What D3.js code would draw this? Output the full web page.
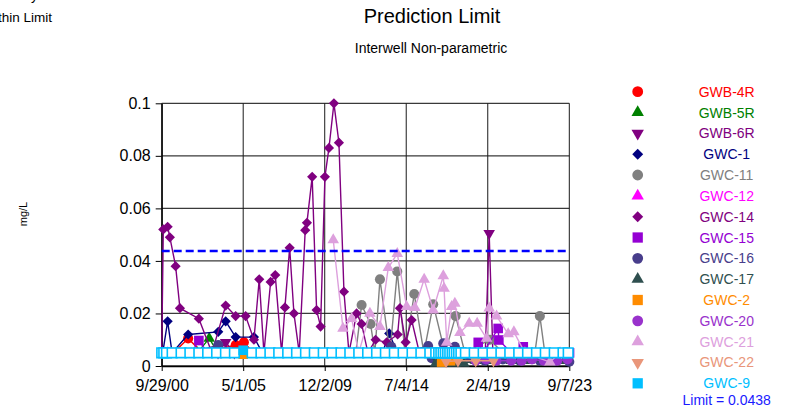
<!DOCTYPE html>
<html>
<head>
<meta charset="utf-8">
<script src="https://cdn.jsdelivr.net/npm/d3@7"></script>
<style>
  html, body { margin: 0; padding: 0; background: #fff; }
  svg { display: block; font-family: "Liberation Sans", Arial, sans-serif; }
</style>
</head>
<body>
<svg id="chart" width="789" height="415"></svg>
<script>
// ---------------- DATA ----------------
const xTickLabels = ["9/29/00", "5/1/05", "12/2/09", "7/4/14", "2/4/19", "9/7/23"];
const yTickValues = [0, 0.02, 0.04, 0.06, 0.08, 0.1];
const yTickLabels = ["0", "0.02", "0.04", "0.06", "0.08", "0.1"];
const limitValue = 0.0438;

const seriesNames = ["GWB-4R","GWB-5R","GWB-6R","GWC-1","GWC-11","GWC-12","GWC-14","GWC-15","GWC-16","GWC-17","GWC-2","GWC-20","GWC-21","GWC-22","GWC-9"];
const seriesColors = ["#FF0000","#008000","#800080","#000080","#808080","#FF00FF","#800080","#9400D3","#483D8B","#2F4F4F","#FF8C00","#9932CC","#DDA0DD","#E9967A","#00BFFF"];
const seriesShapes = ["circle","triangle","triangleDown","diamond","circle","triangle","diamond","square","circle","triangle","square","circle","triangle","triangleDown","square"];

const gwb4rDates = ["2001-06-01","2002-03-27","2003-01-15","2004-11-27","2005-05-16","2005-12-01"];
const gwb4rValues = [0.005,0.0105,0.005,0.008,0.009,0.005];

const gwb5rDates = ["2002-10-01","2003-06-03","2003-12-01"];
const gwb5rValues = [0.005,0.0105,0.005];

const gwb6rDates = ["2003-12-01","2004-05-06","2004-11-01","2018-12-15","2019-03-05","2019-05-20"];
const gwb6rValues = [0.005,0.009,0.005,0.005,0.0505,0.005];

const gwc1Dates = ["2000-10-20","2001-01-29","2001-05-01","2002-03-27","2003-12-05","2004-05-06","2004-11-27","2005-12-08","2006-06-01","2013-03-01","2013-07-20","2014-01-01"];
const gwc1Values = [0.005,0.017,0.005,0.012,0.013,0.017,0.011,0.011,0.005,0.005,0.0124,0.005];

const gwc11Dates = ["2011-09-01","2011-12-30","2012-07-01","2012-09-28","2013-01-10","2013-08-04","2014-01-01","2014-06-08","2014-12-16","2015-07-02","2016-01-10","2016-09-08","2017-04-15","2017-10-23","2019-03-19","2019-12-10","2021-09-30","2022-01-10","2022-04-22"];
const gwc11Values = [0.005,0.0232,0.016,0.005,0.033,0.005,0.036,0.005,0.0274,0.005,0.0235,0.005,0.019,0.005,0.010,0.005,0.005,0.019,0.005];

const gwc12Dates = ["2000-10-10","2001-02-01"];
const gwc12Values = [0.005,0.005];

const gwc14Dates = ["2000-09-29","2000-11-01","2001-01-29","2001-03-16","2001-07-12","2001-10-09","2002-11-02","2003-07-29","2004-05-06","2004-11-27","2005-06-20","2005-12-08","2006-03-27","2006-07-01","2006-11-16","2007-02-19","2007-06-30","2007-09-06","2007-12-12","2008-03-09","2008-06-26","2008-10-27","2008-12-01","2009-03-19","2009-06-18","2009-09-08","2009-12-06","2010-02-27","2010-06-09","2010-09-20","2011-01-01","2011-04-14","2011-09-18","2011-12-30","2012-05-08","2012-10-13","2013-05-28","2014-01-09","2014-02-25","2014-06-22","2014-10-23","2015-04-01"];
const gwc14Values = [0.005,0.052,0.053,0.049,0.038,0.022,0.018,0.005,0.023,0.019,0.019,0.010,0.033,0.005,0.032,0.0346,0.005,0.0223,0.045,0.020,0.005,0.0517,0.0545,0.072,0.0213,0.015,0.072,0.083,0.100,0.085,0.0283,0.005,0.020,0.016,0.005,0.010,0.009,0.012,0.022,0.009,0.0175,0.005];

const gwc15Dates = ["2002-06-01","2002-11-02","2003-05-01","2018-03-01","2018-07-23","2018-11-01","2019-09-06","2019-09-20","2020-06-01","2021-02-03","2021-06-01","2023-09-12"];
const gwc15Values = [0.005,0.0097,0.005,0.005,0.009,0.005,0.0143,0.0099,0.005,0.0073,0.005,0.005];

const gwc16Dates = ["2002-06-01","2003-12-05","2004-06-01","2013-03-01","2013-09-01","2014-03-01","2015-09-28","2015-12-08","2016-08-04","2017-03-30","2018-02-02","2018-12-08","2019-12-10","2020-11-27","2022-01-10","2022-11-14","2023-09-07"];
const gwc16Values = [0.005,0.008,0.005,0.005,0.0073,0.005,0.0076,0.003,0.0086,0.0073,0.003,0.002,0.0025,0.002,0.002,0.002,0.0016];

const gwc17Dates = ["2015-11-01","2016-03-01","2016-09-01","2017-04-01","2017-10-01","2018-06-01","2019-06-01","2020-06-01","2021-06-01","2022-06-01","2023-06-01"];
const gwc17Values = [0.005,0.001,0.001,0.001,0.001,0.002,0.002,0.002,0.002,0.002,0.002];

const gwc2Dates = ["2005-01-01","2005-05-01","2005-09-01","2016-01-01","2016-07-01","2017-01-01"];
const gwc2Values = [0.005,0.0045,0.005,0.005,0.0015,0.002];

const gwc20Dates = ["2017-11-01","2018-06-01","2019-01-01","2019-08-01","2020-06-01","2021-01-01","2021-08-01","2022-04-01","2023-01-01","2023-08-01"];
const gwc20Values = [0.005,0.002,0.0025,0.002,0.002,0.002,0.0025,0.002,0.002,0.0025];

const gwc21Dates = ["2010-05-26","2010-12-12","2011-06-08","2011-11-01","2012-06-18","2013-01-10","2013-06-30","2014-01-01","2014-07-12","2014-12-30","2015-07-08","2016-01-10","2016-08-04","2016-08-20","2016-10-13","2017-01-23","2017-03-30","2017-07-12","2018-01-19","2018-07-01","2019-01-10","2019-03-05","2019-08-04","2020-03-30","2020-07-25","2021-03-09","2022-08-04","2023-03-01"];
const gwc21Values = [0.048,0.0143,0.018,0.005,0.020,0.015,0.0374,0.0428,0.0226,0.0222,0.033,0.0213,0.0343,0.0295,0.009,0.0226,0.0238,0.0127,0.0162,0.0162,0.0105,0.022,0.019,0.0122,0.013,0.005,0.0015,0.005];

const gwc22Dates = ["2016-03-01","2016-10-01","2017-06-01","2018-06-01","2019-06-01"];
const gwc22Values = [0.005,0.0017,0.002,0.002,0.002];

const gwc9Dates = ["2000-09-29","2000-11-10","2001-01-05","2001-05-01","2001-11-01","2002-05-01","2002-11-01","2003-05-01","2003-11-01","2004-05-01","2004-11-01","2005-05-01","2005-11-01","2006-05-01","2006-11-01","2007-05-01","2007-11-01","2008-05-01","2008-11-01","2009-05-01","2009-11-01","2010-05-01","2010-11-01","2011-05-01","2011-11-01","2012-05-01","2012-11-01","2013-05-01","2013-11-01","2014-05-01","2014-11-01","2015-05-01","2015-11-01","2016-03-01","2016-05-01","2016-06-15","2016-08-01","2016-09-15","2016-11-01","2016-12-15","2017-02-01","2017-03-15","2017-05-01","2017-06-15","2017-08-01","2017-11-01","2018-05-01","2018-11-01","2019-05-01","2019-11-01","2020-05-01","2020-11-01","2021-05-01","2021-11-01","2022-05-01","2022-11-01","2023-05-01","2023-08-15"];
const gwc9Values = [0.005,0.005,0.005,0.005,0.005,0.005,0.005,0.005,0.005,0.005,0.005,0.006,0.005,0.005,0.005,0.005,0.005,0.005,0.005,0.005,0.005,0.005,0.005,0.005,0.005,0.005,0.005,0.005,0.005,0.005,0.005,0.005,0.005,0.005,0.005,0.005,0.005,0.005,0.005,0.005,0.005,0.005,0.005,0.005,0.005,0.005,0.005,0.005,0.005,0.005,0.005,0.005,0.005,0.005,0.005,0.005,0.005,0.005];
// 1 = detected (filled marker), 0 = non-detect (hollow marker)
const gwc9Detected = [0,0,0,0,0,0,0,0,0,0,0,1,0,0,0,0,0,0,0,0,0,0,0,0,0,0,0,0,0,0,0,0,0,0,0,0,0,0,0,0,0,0,0,0,0,0,0,0,0,0,0,0,0,0,0,0,0,0];

const seriesDates = [gwb4rDates,gwb5rDates,gwb6rDates,gwc1Dates,gwc11Dates,gwc12Dates,gwc14Dates,gwc15Dates,gwc16Dates,gwc17Dates,gwc2Dates,gwc20Dates,gwc21Dates,gwc22Dates,gwc9Dates];
const seriesValues = [gwb4rValues,gwb5rValues,gwb6rValues,gwc1Values,gwc11Values,gwc12Values,gwc14Values,gwc15Values,gwc16Values,gwc17Values,gwc2Values,gwc20Values,gwc21Values,gwc22Values,gwc9Values];

// ---------------- CHART ----------------
const svg = d3.select("#chart");
const parseISO = d3.timeParse("%Y-%m-%d");
const parseTick = d3.timeParse("%m/%d/%y");
const xTicks = xTickLabels.map(parseTick);

const plot = { left: 161.7, right: 569.3, top: 103.3, bottom: 366 };

const x = d3.scaleTime()
  .domain([xTicks[0], xTicks[xTicks.length - 1]])
  .range([plot.left, plot.right]);
const y = d3.scaleLinear().domain([0, 0.1]).range([plot.bottom, plot.top]);

// Titles (top-left header is partly outside the page, as in the reference)
svg.append("text").attr("x", 38).attr("y", -0.5).attr("text-anchor", "end")
  .attr("font-size", 14).attr("fill", "#000").text("Summary");
svg.append("text").attr("x", 52).attr("y", 22).attr("text-anchor", "end")
  .attr("font-size", 13.5).attr("fill", "#000").text("Within Limit");
svg.append("text").attr("x", 432).attr("y", 22.5).attr("text-anchor", "middle")
  .attr("font-size", 20).attr("fill", "#000").text("Prediction Limit");
svg.append("text").attr("x", 431).attr("y", 52.5).attr("text-anchor", "middle")
  .attr("font-size", 14).attr("fill", "#000").text("Interwell Non-parametric");

// Y axis label
svg.append("text")
  .attr("transform", "translate(27,214) rotate(-90)")
  .attr("text-anchor", "middle").attr("font-size", 11).attr("fill", "#000")
  .text("mg/L");

// Gridlines
const grid = svg.append("g");
grid.selectAll("line.h").data(yTickValues).join("line")
  .attr("x1", plot.left).attr("x2", plot.right)
  .attr("y1", d => y(d)).attr("y2", d => y(d))
  .attr("stroke", "#3a3a3a").attr("stroke-width", 1.3);
grid.selectAll("line.v").data(xTicks).join("line")
  .attr("x1", d => x(d)).attr("x2", d => x(d))
  .attr("y1", plot.top).attr("y2", plot.bottom)
  .attr("stroke", "#1a1a1a").attr("stroke-width", 1);

// Axes
const yAxis = d3.axisLeft(y).tickValues(yTickValues)
  .tickFormat((d, i) => yTickLabels[i]).tickSize(6).tickSizeOuter(0);
const gy = svg.append("g").attr("transform", `translate(${plot.left},0)`).call(yAxis);
gy.selectAll("text").attr("font-size", 16).attr("fill", "#000").attr("dx", "-2");
gy.selectAll("line, path").attr("stroke", "#000");

const xAxis = d3.axisBottom(x).tickValues(xTicks)
  .tickFormat((d, i) => xTickLabels[i]).tickSize(5).tickSizeOuter(0);
const gx = svg.append("g").attr("transform", `translate(0,${plot.bottom})`).call(xAxis);
gx.selectAll("text").attr("font-size", 16).attr("fill", "#000").attr("dy", "1.05em");
gx.selectAll("line, path").attr("stroke", "#000");
gy.select(".domain").attr("stroke-width", 1.3);
gx.select(".domain").attr("stroke-width", 1.3);

// Symbols
function symbolPath(shape, big) {
  const k = big ? 1.15 : 1;
  switch (shape) {
    case "circle": return d3.symbol(d3.symbolCircle, 80 * k)();
    case "triangle": return d3.symbol(d3.symbolTriangle, 58 * k)();
    case "triangleDown": return d3.symbol(d3.symbolTriangle, 58 * k)();
    case "diamond": return d3.symbol(d3.symbolSquare, 52 * k)();
    case "square": return d3.symbol(d3.symbolSquare, 92 * k)();
  }
}
function symbolRotate(shape) {
  if (shape === "triangleDown") return " rotate(180)";
  if (shape === "diamond") return " rotate(45)";
  return "";
}

const line = d3.line().x(d => x(d.date)).y(d => y(d.value));
const seriesGroup = svg.append("g");

seriesNames.forEach((name, si) => {
  const pts = seriesDates[si].map((d, i) => ({
    date: parseISO(d),
    value: seriesValues[si][i],
    filled: name === "GWC-9" ? gwc9Detected[i] === 1 : true
  }));
  const color = seriesColors[si];
  const shape = seriesShapes[si];
  const g = seriesGroup.append("g");
  g.append("path").datum(pts).attr("d", line)
    .attr("fill", "none").attr("stroke", color).attr("stroke-width", 1.4);
  g.selectAll("path.m").data(pts).join("path")
    .attr("class", "m")
    .attr("d", symbolPath(shape, false))
    .attr("transform", d => `translate(${x(d.date)},${y(d.value)})${symbolRotate(shape)}`)
    .attr("fill", d => d.filled ? color : "#fff")
    .attr("stroke", d => d.filled ? "none" : color)
    .attr("stroke-width", d => d.filled ? 0 : 1.6);
});

// Limit line
svg.append("line")
  .attr("x1", plot.left).attr("x2", plot.right)
  .attr("y1", y(limitValue)).attr("y2", y(limitValue))
  .attr("stroke", "#0000FF").attr("stroke-width", 2.5)
  .attr("stroke-dasharray", "8,4");

// Legend
const legend = svg.append("g");
const legY0 = 91.7, legDy = 20.83;
seriesNames.forEach((name, i) => {
  const cy = legY0 + i * legDy;
  legend.append("path")
    .attr("d", symbolPath(seriesShapes[i], true))
    .attr("transform", `translate(637.7,${cy})${symbolRotate(seriesShapes[i])}`)
    .attr("fill", seriesColors[i]);
  legend.append("text")
    .attr("x", 726.7).attr("y", cy + 5).attr("text-anchor", "middle")
    .attr("font-size", 14).attr("fill", seriesColors[i]).text(name);
});
legend.append("text")
  .attr("x", 726.7).attr("y", legY0 + 15 * legDy + 0.5).attr("text-anchor", "middle")
  .attr("font-size", 14).attr("fill", "#1a1aff").text("Limit = " + limitValue);
</script>
</body>
</html>
